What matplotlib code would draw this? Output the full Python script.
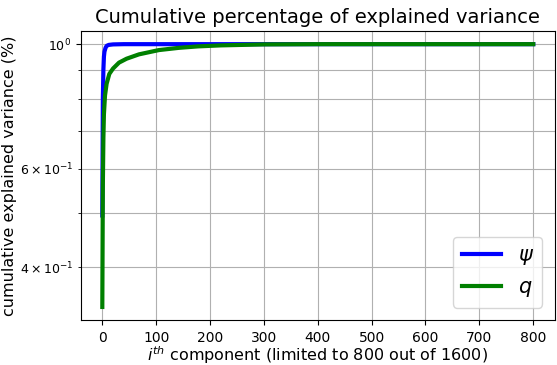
import matplotlib.pyplot as plt

psi_components = [0, 1, 2, 3, 4, 6, 8, 12, 20, 40, 100, 200, 400, 800]
psi_variance = [0.495, 0.80, 0.90, 0.95, 0.97, 0.985, 0.993, 0.997, 0.999, 1.0, 1.0, 1.0, 1.0, 1.0]

q_components = [0, 1, 2, 3, 5, 8, 13, 20, 31, 45, 68, 105, 142, 178, 220, 260, 300, 400, 600, 800]
q_variance = [0.34, 0.56, 0.68, 0.75, 0.81, 0.85, 0.885, 0.905, 0.927, 0.942, 0.959, 0.976,
              0.985, 0.991, 0.995, 0.997, 0.999, 1.0, 1.0, 1.0]


def plot_cumulative_variance():
    fig, ax = plt.subplots(figsize=(5.57, 3.65), dpi=100)

    ax.plot(psi_components, psi_variance, color='blue', linewidth=3, label=r'$\psi$')
    ax.plot(q_components, q_variance, color='green', linewidth=3, label=r'$q$')

    ax.set_yscale('log')
    ax.set_title('Cumulative percentage of explained variance', fontsize=14)
    ax.set_xlabel(r'$i^{th}$ component (limited to 800 out of 1600)', fontsize=11.5)
    ax.set_ylabel('cumulative explained variance (%)', fontsize=11.5)
    ax.xaxis.set_label_coords(0.5, -0.085)
    ax.yaxis.set_label_coords(-0.135, 0.5)
    ax.tick_params(axis='x', pad=4.5)
    ax.tick_params(axis='y', which='both', labelsize=9)
    ax.set_xticks(range(0, 801, 100))
    ax.grid(True, which='both', color='#b0b0b0', linewidth=0.8)
    ax.legend(loc='lower right', fontsize=15, handlelength=1.9, borderaxespad=0.6)

    fig.subplots_adjust(left=0.145, right=0.996, top=0.915, bottom=0.123)
    fig.savefig('out.png')
    plt.close(fig)


if __name__ == "__main__":
    plot_cumulative_variance()
